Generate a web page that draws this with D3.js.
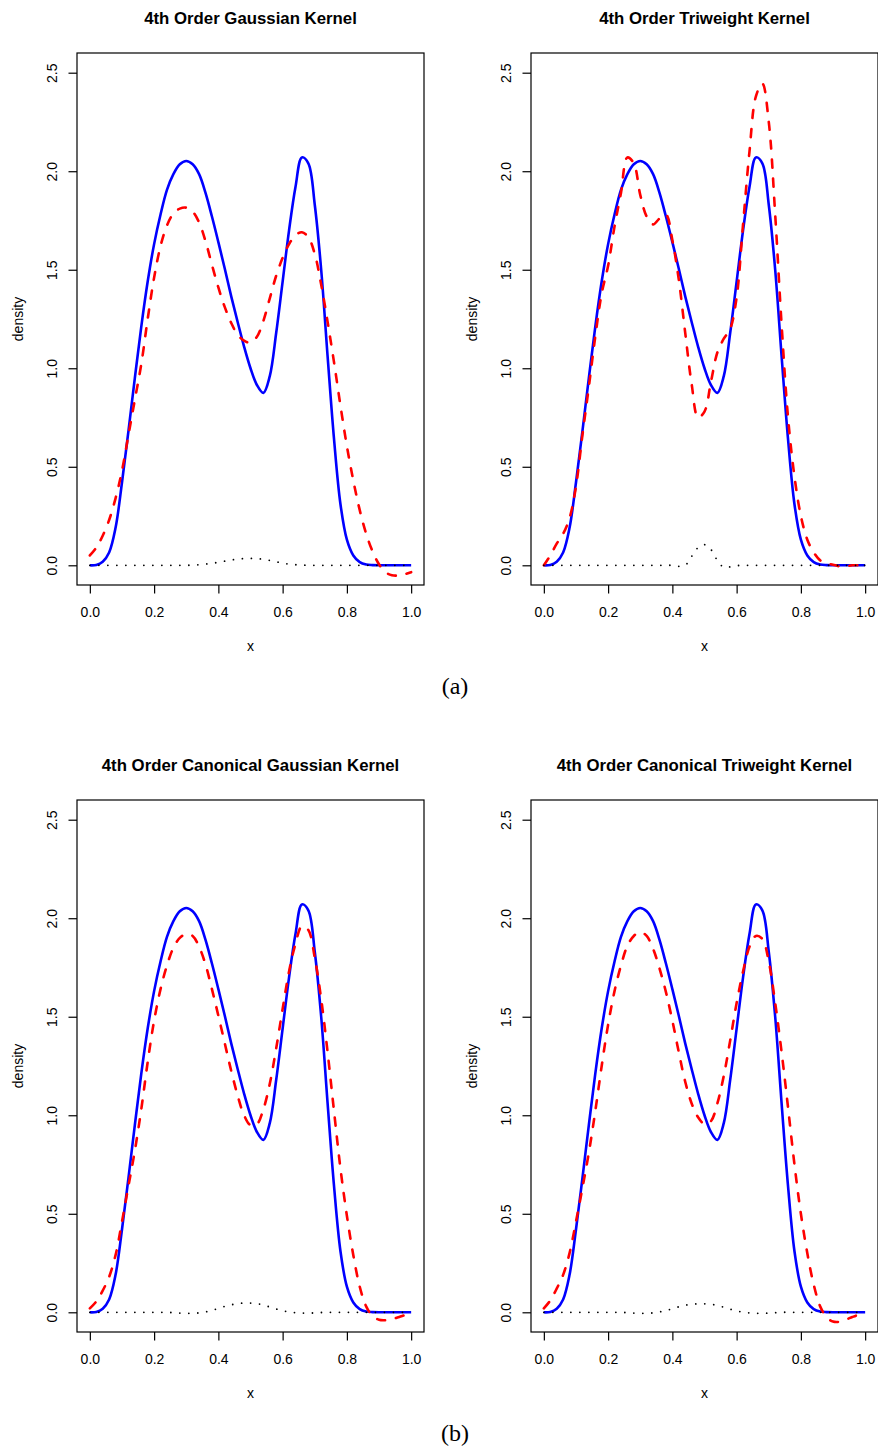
<!DOCTYPE html>
<html>
<head>
<meta charset="utf-8">
<script src="https://cdn.jsdelivr.net/npm/d3@7"></script>
<style>
  body { margin: 0; background: #fff; }
  svg { display: block; }
</style>
</head>
<body>
<svg id="chart"></svg>
<script>
// Four 4th order kernel density estimates against the true density.

const width = 878;
const height = 1451;

// evaluation grid, read every 0.02
const xGrid = [
  0.00, 0.02, 0.04, 0.06, 0.08, 0.10, 0.12, 0.14, 0.16, 0.18,
  0.20, 0.22, 0.24, 0.26, 0.28, 0.30, 0.32, 0.34, 0.36, 0.38,
  0.40, 0.42, 0.44, 0.46, 0.48, 0.50, 0.52, 0.54, 0.56, 0.58,
  0.60, 0.62, 0.64, 0.66, 0.68, 0.70, 0.72, 0.74, 0.76, 0.78,
  0.80, 0.82, 0.84, 0.86, 0.88, 0.90, 0.92, 0.94, 0.96, 0.98, 1.00,
];

// true density (blue, same in every panel)
const trueDensity = [
  0.000, 0.002, 0.018, 0.065, 0.190, 0.420, 0.680, 0.950, 1.210, 1.440,
  1.630, 1.780, 1.905, 1.985, 2.035, 2.052, 2.035, 1.985, 1.890, 1.770,
  1.640, 1.505, 1.365, 1.235, 1.110, 1.000, 0.915, 0.875, 0.960, 1.180,
  1.440, 1.700, 1.920, 2.070, 2.040, 1.830, 1.500, 1.060, 0.640, 0.310,
  0.130, 0.050, 0.016, 0.004, 0.001, 0.000, 0.000, 0.000, 0.000, 0.000, 0.000,
];

// estimates (red dashed)
const estGaussian = [
  0.050, 0.090, 0.150, 0.230, 0.340, 0.480, 0.660, 0.840, 1.020, 1.250,
  1.460, 1.620, 1.725, 1.785, 1.810, 1.815, 1.795, 1.740, 1.645, 1.525,
  1.410, 1.310, 1.230, 1.170, 1.140, 1.130, 1.160, 1.240, 1.355, 1.470,
  1.560, 1.630, 1.675, 1.690, 1.665, 1.580, 1.425, 1.235, 1.030, 0.810,
  0.605, 0.430, 0.280, 0.160, 0.070, 0.005, -0.035, -0.050, -0.052, -0.045, -0.035,
];

const estTriweight = [
  0.000, 0.050, 0.110, 0.160, 0.240, 0.400, 0.660, 0.905, 1.160, 1.380,
  1.520, 1.720, 1.890, 2.070, 2.040, 1.880, 1.770, 1.730, 1.760, 1.780,
  1.650, 1.450, 1.180, 0.920, 0.750, 0.780, 0.930, 1.080, 1.150, 1.200,
  1.360, 1.730, 2.100, 2.380, 2.445, 2.250, 1.780, 1.220, 0.750, 0.450,
  0.250, 0.130, 0.065, 0.025, 0.010, 0.003, -0.005, -0.005, 0.000, 0.000, 0.000,
];

const estCanonGaussian = [
  0.020, 0.055, 0.110, 0.180, 0.290, 0.460, 0.640, 0.820, 1.030, 1.270,
  1.480, 1.640, 1.760, 1.850, 1.900, 1.920, 1.910, 1.855, 1.765, 1.640,
  1.505, 1.365, 1.225, 1.100, 1.000, 0.950, 0.955, 1.030, 1.160, 1.340,
  1.540, 1.730, 1.870, 1.960, 1.940, 1.800, 1.590, 1.320, 1.020, 0.730,
  0.490, 0.290, 0.130, 0.030, -0.020, -0.038, -0.040, -0.035, -0.025, -0.015, -0.007,
];

const estCanonTriweight = [
  0.020, 0.060, 0.120, 0.190, 0.300, 0.460, 0.630, 0.810, 1.020, 1.250,
  1.460, 1.630, 1.760, 1.860, 1.910, 1.930, 1.910, 1.845, 1.745, 1.625,
  1.480, 1.320, 1.170, 1.060, 0.990, 0.955, 0.970, 1.060, 1.200, 1.380,
  1.570, 1.730, 1.855, 1.910, 1.895, 1.780, 1.570, 1.320, 1.040, 0.750,
  0.500, 0.300, 0.140, 0.030, -0.025, -0.047, -0.048, -0.037, -0.024, -0.012, -0.003,
];

// dotted curves
const dotGaussian = [
  0, 0, 0, 0, 0, 0, 0, 0, 0, 0,
  0, 0, 0, 0, 0, 0, 0.001, 0.003, 0.006, 0.010,
  0.015, 0.021, 0.027, 0.031, 0.034, 0.035, 0.034, 0.030, 0.025, 0.018,
  0.011, 0.006, 0.003, 0.001, 0, 0, 0, 0, 0, 0,
  0, 0, 0, 0, 0, 0, 0, 0, 0, 0, 0,
];

const dotTriweight = [
  0, 0, 0, 0, 0, 0, 0, 0, 0, 0,
  0, 0, 0, 0, 0, 0, 0, 0, 0, 0,
  0, -0.005, 0.000, 0.045, 0.090, 0.105, 0.080, 0.025, -0.010, -0.008,
  -0.002, 0, 0, 0, 0, 0, 0, 0, 0, 0,
  0, 0, 0, 0, 0, 0, 0, 0, 0, 0, 0,
];

const dotCanonGaussian = [
  0, 0, 0, 0, 0, 0, 0, 0, 0, 0,
  0, 0, 0, -0.002, -0.004, -0.005, -0.005, -0.003, 0.002, 0.010,
  0.020, 0.030, 0.038, 0.044, 0.047, 0.047, 0.044, 0.037, 0.027, 0.017,
  0.008, 0.002, -0.002, -0.004, -0.004, -0.003, -0.001, 0, 0, 0,
  0, 0, 0, 0, 0, 0, 0, 0, 0, 0, 0,
];

const dotCanonTriweight = [
  0, 0, 0, 0, 0, 0, 0, 0, 0, 0,
  0, 0, 0, -0.002, -0.004, -0.005, -0.005, -0.003, 0.002, 0.009,
  0.018, 0.028, 0.036, 0.041, 0.043, 0.043, 0.041, 0.035, 0.026, 0.016,
  0.007, 0.001, -0.003, -0.005, -0.005, -0.004, -0.002, 0, 0, 0,
  0, 0, 0, 0, 0, 0, 0, 0, 0, 0, 0,
];

const panelTitles = [
  "4th Order Gaussian Kernel",
  "4th Order Triweight Kernel",
  "4th Order Canonical Gaussian Kernel",
  "4th Order Canonical Triweight Kernel",
];

const xTicks = [0, 0.2, 0.4, 0.6, 0.8, 1.0];
const yTicks = [0, 0.5, 1.0, 1.5, 2.0, 2.5];
const subLabels = ["(a)", "(b)"];

const panels = [
  { title: panelTitles[0], est: estGaussian, dots: dotGaussian, col: 0, row: 0 },
  { title: panelTitles[1], est: estTriweight, dots: dotTriweight, col: 1, row: 0 },
  { title: panelTitles[2], est: estCanonGaussian, dots: dotCanonGaussian, col: 0, row: 1 },
  { title: panelTitles[3], est: estCanonTriweight, dots: dotCanonTriweight, col: 1, row: 1 },
];

const sans = "'Liberation Sans', Arial, Helvetica, sans-serif";
const colStep = 454;
const rowStep = 747;
const box = { left: 77, right: 424, top: 53, bottom: 585 };

const svg = d3.select("#chart").attr("width", width).attr("height", height);

const x = d3.scaleLinear().domain([-0.04, 1.04]).range([box.left, box.right]);
const y = d3.scaleLinear().domain([-0.1, 2.6]).range([box.bottom, box.top]);

const line = d3
  .line()
  .x((d, i) => x(xGrid[i]))
  .y((d) => y(d))
  .curve(d3.curveCatmullRom.alpha(0.5));

const midX = (box.left + box.right) / 2;

panels.forEach((p) => {
  const g = svg
    .append("g")
    .attr("transform", `translate(${p.col * colStep},${p.row * rowStep})`);

  g.append("path")
    .datum(trueDensity)
    .attr("d", line)
    .attr("fill", "none")
    .attr("stroke", "#0000ff")
    .attr("stroke-width", 2.6);

  g.append("path")
    .datum(p.est)
    .attr("d", line)
    .attr("fill", "none")
    .attr("stroke", "#ff0000")
    .attr("stroke-width", 2.6)
    .attr("stroke-linecap", "round")
    .attr("stroke-dasharray", "8 11");

  g.append("path")
    .datum(p.dots)
    .attr("d", line)
    .attr("fill", "none")
    .attr("stroke", "#000")
    .attr("stroke-width", 1.8)
    .attr("stroke-linecap", "round")
    .attr("stroke-dasharray", "0 9");

  // frame
  g.append("rect")
    .attr("x", box.left)
    .attr("y", box.top)
    .attr("width", box.right - box.left)
    .attr("height", box.bottom - box.top)
    .attr("fill", "none")
    .attr("stroke", "#000")
    .attr("stroke-width", 1.2);

  const xAxis = g
    .append("g")
    .attr("transform", `translate(0,${box.bottom})`)
    .call(
      d3.axisBottom(x).tickValues(xTicks).tickFormat(d3.format(".1f")).tickSize(8.5).tickPadding(13.3)
    );
  xAxis.select(".domain").remove();
  xAxis.selectAll("line").attr("stroke", "#000").attr("stroke-width", 1.2);
  xAxis.selectAll("text").attr("font-family", sans).attr("font-size", 14).attr("fill", "#000");

  const yAxis = g
    .append("g")
    .attr("transform", `translate(${box.left},0)`)
    .call(d3.axisLeft(y).tickValues(yTicks).tickFormat(d3.format(".1f")).tickSize(8.5));
  yAxis.select(".domain").remove();
  yAxis.selectAll("line").attr("stroke", "#000").attr("stroke-width", 1.2);
  yAxis
    .selectAll("text")
    .attr("x", 0)
    .attr("dy", null)
    .attr("text-anchor", "middle")
    .attr("transform", "translate(-20,0) rotate(-90)")
    .attr("font-family", sans)
    .attr("font-size", 14)
    .attr("fill", "#000");

  g.append("text")
    .attr("x", midX)
    .attr("y", 24)
    .attr("text-anchor", "middle")
    .attr("font-family", sans)
    .attr("font-size", 16.8)
    .attr("font-weight", "bold")
    .text(p.title);

  g.append("text")
    .attr("x", midX)
    .attr("y", 651)
    .attr("text-anchor", "middle")
    .attr("font-family", sans)
    .attr("font-size", 14)
    .text("x");

  g.append("text")
    .attr("transform", `translate(23,${(box.top + box.bottom) / 2}) rotate(-90)`)
    .attr("text-anchor", "middle")
    .attr("font-family", sans)
    .attr("font-size", 14)
    .text("density");
});

subLabels.forEach((s, i) => {
  svg
    .append("text")
    .attr("x", 455)
    .attr("y", 694 + i * rowStep)
    .attr("text-anchor", "middle")
    .attr("font-family", "'Liberation Serif', 'DejaVu Serif', serif")
    .attr("font-size", 24)
    .text(s);
});
</script>
</body>
</html>
